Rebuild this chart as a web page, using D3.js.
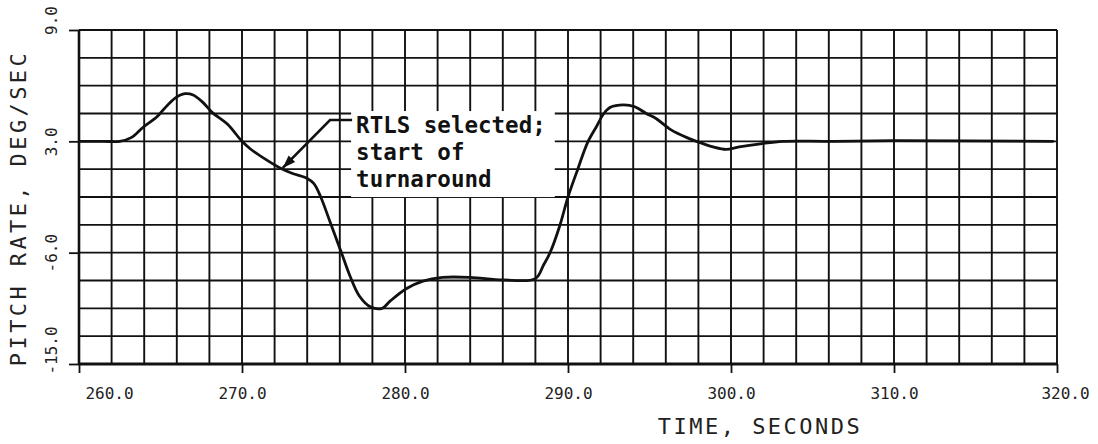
<!DOCTYPE html>
<html><head><meta charset="utf-8">
<script src="https://cdn.jsdelivr.net/npm/d3@7"></script>
<style>body{margin:0;background:#fff}svg{display:block}</style>
</head><body><svg id="c" width="1098" height="444"></svg>
<script>
// ---- data ----
const time = [260.0, 261.5, 262.5, 263.2, 263.9, 264.8, 265.2, 265.9, 266.5, 267.0, 267.6, 268.2, 269.1, 270.0,
  270.5, 271.5, 272.4, 273.1, 274.0, 274.4, 274.8, 275.4, 276.1, 276.6, 277.2, 277.9, 278.6, 279.1,
  280.1, 281.1, 282.3, 284.0, 286.0, 288.0, 288.5, 288.9, 289.5, 290.0, 290.6, 291.2, 291.75, 292.2,
  292.6, 293.4, 294.1, 294.8, 295.4, 296.3, 297.3, 298.1, 298.9, 299.7, 300.5, 301.8, 303.2, 306.0, 310.0, 319.8];
const pitchRate = [0, 0, 0, 0.3, 1.1, 2.0, 2.6, 3.5, 3.85, 3.75, 3.15, 2.3, 1.4, 0.0,
  -0.6, -1.5, -2.2, -2.6, -3.0, -3.4, -4.4, -6.5, -9.0, -10.8, -12.5, -13.4, -13.5, -12.9,
  -11.9, -11.3, -11.0, -11.0, -11.2, -11.1, -10.0, -9.0, -6.8, -4.5, -2.25, -0.1, 1.2, 2.25,
  2.75, 2.95, 2.8, 2.25, 1.85, 0.95, 0.3, -0.1, -0.45, -0.65, -0.45, -0.2, 0, 0, 0.05, 0];
const xTicks = [260, 270, 280, 290, 300, 310, 320];
const xTickLabels = ["260.0", "270.0", "280.0", "290.0", "300.0", "310.0", "320.0"];
const yTicks = [9, 0, -9, -18];
const yTickLabels = ["9.0", "3.0", "-6.0", "-15.0"];
const xGridStep = 2;
const yGridStep = 2.25;
const xTitle = "TIME, SECONDS";
const yTitle = "PITCH RATE, DEG/SEC";
const noteLines = ["RTLS selected;", "start of", "turnaround"];
const noteTarget = [272.5, -2.15];   // arrow tip (time, rate)
const noteElbow = [275.4, 1.72];
const noteAnchor = [277.0, 0.67];    // first text baseline

// ---- scales ----
const svg = d3.select("#c");
const x = d3.scaleLinear().domain([260, 320]).range([79, 1057]);
const y = d3.scaleLinear().domain([-18, 9]).range([364, 30]);
const ink = "#111";

// grid
const g = svg.append("g");
g.selectAll("line.v").data(d3.range(260, 320.001, xGridStep)).join("line")
  .attr("x1", d => x(d)).attr("x2", d => x(d)).attr("y1", y(9)).attr("y2", y(-18))
  .attr("stroke", ink).attr("stroke-width", 1.9);
g.selectAll("line.h").data(d3.range(-18, 9.001, yGridStep)).join("line")
  .attr("y1", d => y(d)).attr("y2", d => y(d)).attr("x1", x(260)).attr("x2", x(320))
  .attr("stroke", ink).attr("stroke-width", 1.9);
// heavier frame bottom/left
svg.append("line").attr("x1", x(260)).attr("x2", x(320)).attr("y1", y(-18)).attr("y2", y(-18))
  .attr("stroke", ink).attr("stroke-width", 3);
svg.append("line").attr("x1", x(260)).attr("x2", x(260)).attr("y1", y(9)).attr("y2", y(-18))
  .attr("stroke", ink).attr("stroke-width", 2.6);

// axes
const xa = svg.append("g").attr("transform", `translate(0,${y(-18)})`)
  .call(d3.axisBottom(x).tickValues(xTicks).tickSize(9).tickPadding(12)
    .tickFormat((d, i) => xTickLabels[i]));
xa.select(".domain").remove();
xa.selectAll("line").attr("stroke", ink).attr("stroke-width", 1.8);
xa.selectAll("text").attr("font-family", "DejaVu Sans Mono").attr("font-size", 16)
  .attr("fill", "#222").attr("dy", "0.9em")
  .attr("dx", (d, i) => i === 0 ? 30 : (i === xTicks.length - 1 ? 8 : 0));

const ya = svg.append("g").attr("transform", `translate(${x(260)},0)`)
  .call(d3.axisLeft(y).tickValues(yTicks).tickSize(10).tickFormat((d, i) => yTickLabels[i]));
ya.select(".domain").remove();
ya.selectAll("line").attr("stroke", ink).attr("stroke-width", 1.8);
ya.selectAll("text").attr("font-family", "DejaVu Sans Mono").attr("font-size", 16)
  .attr("fill", "#222").attr("text-anchor", "middle").attr("x", 0).attr("dy", 0)
  .attr("transform", d => `translate(-22,${d === 9 ? -10 : (d === -18 ? -14 : 0)}) rotate(-90)`);

// axis titles
svg.append("text").attr("x", 760).attr("y", 434).attr("text-anchor", "middle")
  .attr("font-family", "DejaVu Sans Mono").attr("font-size", 22).attr("letter-spacing", 2.5)
  .attr("fill", "#222").text(xTitle);
svg.append("text").attr("transform", "translate(26,208) rotate(-90)").attr("text-anchor", "middle")
  .attr("font-family", "DejaVu Sans Mono").attr("font-size", 22).attr("letter-spacing", 3.4)
  .attr("fill", "#222").text(yTitle);

// curve
const pts = time.map((t, i) => [t, pitchRate[i]]);
svg.append("path").datum(pts)
  .attr("d", d3.line().x(d => x(d[0])).y(d => y(d[1])).curve(d3.curveCatmullRom.alpha(0.5)))
  .attr("fill", "none").attr("stroke", ink).attr("stroke-width", 2.8).attr("stroke-linejoin", "round");

// annotation
const note = svg.append("g");
const bg = note.append("rect").attr("fill", "#fff");
const txt = note.append("text").attr("font-family", "DejaVu Sans Mono").attr("font-weight", "bold")
  .attr("font-size", 22.5).attr("fill", ink);
noteLines.forEach((s, i) => txt.append("tspan").attr("x", x(noteAnchor[0]))
  .attr("y", y(noteAnchor[1]) + i * 27).text(s));
const bb = txt.node().getBBox();
bg.attr("x", bb.x - 5).attr("y", bb.y - 1).attr("width", bb.width + 14).attr("height", bb.height + 6);

svg.append("defs").append("marker").attr("id", "ah").attr("viewBox", "0 0 10 10")
  .attr("refX", 10).attr("refY", 5).attr("markerWidth", 5).attr("markerHeight", 5)
  .attr("markerUnits", "strokeWidth").attr("orient", "auto")
  .append("path").attr("d", "M0,1.5 L10,5 L0,8.5 Z").attr("fill", ink);
note.append("path")
  .attr("d", d3.line()([[x(noteAnchor[0]) - 4, y(noteElbow[1])], [x(noteElbow[0]), y(noteElbow[1])],
    [x(noteTarget[0]), y(noteTarget[1])]]))
  .attr("fill", "none").attr("stroke", ink).attr("stroke-width", 2.6).attr("marker-end", "url(#ah)");
</script></body></html>
